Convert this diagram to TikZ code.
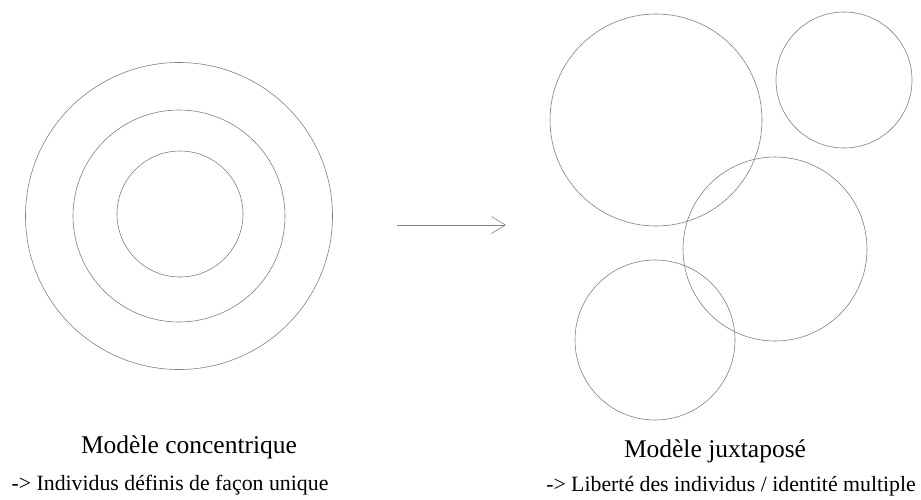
\documentclass[tikz,border=0pt]{standalone}
\usepackage{fontspec}
\setmainfont{Liberation Serif}
\usetikzlibrary{arrows.meta}

\begin{document}
\begin{tikzpicture}[x=1pt,y=-1pt,
  ring/.style={circle,draw=black!50,line width=0.6pt,inner sep=0pt},
  title/.style={anchor=base,font=\fontsize{25.5}{28}\selectfont},
  note/.style={anchor=base,font=\fontsize{21.8}{24}\selectfont}]
\useasboundingbox (0,0) rectangle (921,499);
% modele concentrique
\node[ring,minimum size=307pt] (outer) at (179,216) {};
\node[ring,minimum size=212pt] (middle) at (179,216) {};
\node[ring,minimum size=126pt] (inner) at (180,214) {};
% modele juxtapose
\node[ring,minimum size=212pt] (big) at (656,120) {};
\node[ring,minimum size=136pt] (small) at (844,80) {};
\node[ring,minimum size=184pt] (mid) at (775,249) {};
\node[ring,minimum size=160pt] (low) at (655,340) {};
% fleche
\coordinate (from) at (397,225);
\coordinate (to) at (506,225);
\draw[black!50,line width=0.6pt,-{Straight Barb[length=14pt,width=17pt]}] (from) -- (to);
% textes
\node[title] (concentric) at (189,453) {Modèle concentrique};
\node[note] (single) at (170,490) {-> Individus définis de façon unique};
\node[title] (juxta) at (715,457) {Modèle juxtaposé};
\node[note] (multiple) at (731,491) {-> Liberté des individus / identité multiple};
\end{tikzpicture}
\end{document}
